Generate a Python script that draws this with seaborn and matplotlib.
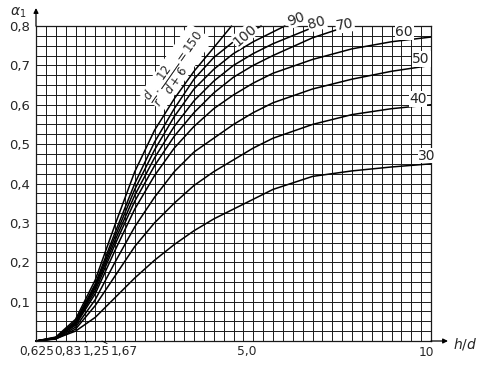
import numpy as np
import pandas as pd
import matplotlib.pyplot as plt
import seaborn as sns

# ---- data: alpha_1 against h/d, one curve per parameter ----
hd_low = [0, 0.5, 1, 1.5, 2, 2.5, 3, 3.5, 4, 4.5, 5, 5.5, 6, 7, 8, 9, 10]
a_30 = [0, 0.006, 0.025, 0.06, 0.11, 0.16, 0.205, 0.245, 0.28, 0.31, 0.335, 0.36, 0.385, 0.418, 0.432, 0.442, 0.45]
a_40 = [0, 0.005, 0.03, 0.09, 0.165, 0.24, 0.30, 0.35, 0.395, 0.43, 0.46, 0.49, 0.515, 0.55, 0.575, 0.59, 0.60]
a_50 = [0, 0.006, 0.035, 0.105, 0.20, 0.29, 0.365, 0.43, 0.48, 0.515, 0.55, 0.58, 0.605, 0.64, 0.665, 0.685, 0.70]
a_60 = [0, 0.007, 0.04, 0.12, 0.23, 0.335, 0.42, 0.49, 0.545, 0.59, 0.625, 0.655, 0.68, 0.715, 0.742, 0.76, 0.772]

hd_70 = [0, 0.5, 1, 1.5, 2, 2.5, 3, 3.5, 4, 4.5, 5, 5.5, 6, 7, 7.9]
a_70 = [0, 0.007, 0.042, 0.128, 0.245, 0.355, 0.445, 0.52, 0.58, 0.63, 0.67, 0.70, 0.725, 0.77, 0.80]
hd_80 = [0, 0.5, 1, 1.5, 2, 2.5, 3, 3.5, 4, 4.5, 5, 5.5, 6, 7.1]
a_80 = [0, 0.008, 0.045, 0.135, 0.255, 0.37, 0.465, 0.545, 0.61, 0.66, 0.70, 0.73, 0.755, 0.80]
hd_90 = [0, 0.5, 1, 1.5, 2, 2.5, 3, 3.5, 4, 4.5, 5, 5.5, 6.3]
a_90 = [0, 0.008, 0.047, 0.14, 0.265, 0.385, 0.485, 0.57, 0.64, 0.69, 0.73, 0.76, 0.80]
hd_100 = [0, 0.5, 1, 1.5, 2, 2.5, 3, 3.5, 4, 4.5, 5, 5.7]
a_100 = [0, 0.009, 0.05, 0.145, 0.275, 0.40, 0.505, 0.59, 0.665, 0.72, 0.76, 0.80]
hd_150 = [0, 0.5, 1, 1.5, 2, 2.5, 3, 3.5, 4, 4.5, 4.95]
a_150 = [0, 0.01, 0.055, 0.155, 0.295, 0.43, 0.535, 0.615, 0.685, 0.745, 0.80]

curves = {
    30: (hd_low, a_30), 40: (hd_low, a_40), 50: (hd_low, a_50), 60: (hd_low, a_60),
    70: (hd_70, a_70), 80: (hd_80, a_80), 90: (hd_90, a_90), 100: (hd_100, a_100),
    150: (hd_150, a_150),
}

# tick labels
y_ticks = [0.1, 0.2, 0.3, 0.4, 0.5, 0.6, 0.7, 0.8]
y_labels = ['0,1', '0,2', '0,3', '0,4', '0,5', '0,6', '0,7', '0,8']
x_marks = [0, 0.83, 1.25, 1.67, 5, 10]
x_labels = ['0,625', '0,83', '1,25', '1,67', '5,0', '10']

rows = []
for p, (xs, ys) in curves.items():
    for x, y in zip(xs, ys):
        rows.append((p, x, y))
df = pd.DataFrame(rows, columns=['param', 'hd', 'alpha'])

sns.set_style('white')
plt.rcParams['font.family'] = ['DejaVu Sans']

fig = plt.figure(figsize=(4.8, 3.65), dpi=100)
ax = fig.add_axes([36 / 480, 24 / 365, 395 / 480, 315 / 365])

sns.lineplot(data=df, x='hd', y='alpha', units='param', estimator=None,
             color='black', linewidth=1.1, sort=False, ax=ax, legend=False)
for line in ax.lines:
    line.set_clip_on(False)

ax.set_xlim(0, 10)
ax.set_ylim(0, 0.8)

# fine grid: 0.25 in h/d, 0.025 in alpha
ax.set_xticks(np.arange(0, 10.001, 0.25))
ax.set_yticks(np.arange(0, 0.8001, 0.025))
ax.set_xticklabels([])
ylab = ['' for _ in ax.get_yticks()]
for v, s in zip(y_ticks, y_labels):
    ylab[int(round(v / 0.025))] = s
ax.set_yticklabels(ylab, fontsize=9.5)
ax.tick_params(length=0, pad=4)
ax.grid(True, color='#1a1a1a', linewidth=0.7)
ax.set_axisbelow(True)
for s in ax.spines.values():
    s.set_color('#1a1a1a')
    s.set_linewidth(0.9)
ax.set_xlabel('')
ax.set_ylabel('')

# axis arrows and names
ax.annotate('', xy=(0, 1.057), xycoords='axes fraction', xytext=(0, 1.0),
            arrowprops=dict(arrowstyle='-|>', color='black', lw=0.9, mutation_scale=7,
                            shrinkA=0, shrinkB=0))
ax.annotate('', xy=(1.043, 0), xycoords='axes fraction', xytext=(1.0, 0),
            arrowprops=dict(arrowstyle='-|>', color='black', lw=0.9, mutation_scale=7,
                            shrinkA=0, shrinkB=0))
fig.text(18 / 480, 1 - 13 / 365, r'$\alpha_1$', fontsize=10, ha='center', va='center')
fig.text(465 / 480, 1 - 344 / 365, r'$h/d$', fontsize=10, ha='center', va='center')

# x labels, small ones with leader lines
x_offsets = [1, -1, 11, 22, 3, -5]
for v, s, dx in zip(x_marks, x_labels, x_offsets):
    lead = dict(arrowstyle='-', lw=0.6, color='black', shrinkA=0, shrinkB=0) if dx > 8 else None
    ax.annotate(s, xy=(v, 0), xycoords='data', xytext=(dx, -11), textcoords='offset pixels',
                ha='center' if v != 5 else 'left', va='center', fontsize=8.8,
                arrowprops=lead, annotation_clip=False)

# curve labels
white = dict(facecolor='white', edgecolor='none', pad=0.5)
lab_pos = {30: (9.9, 0.471, 0), 40: (9.67, 0.615, 0), 50: (9.75, 0.716, 0), 60: (9.32, 0.785, 0),
           70: (7.82, 0.803, 10), 80: (7.11, 0.808, 15), 90: (6.58, 0.818, 20), 100: (5.29, 0.777, 40)}
for p, (x, y, r) in lab_pos.items():
    ax.text(x, y, str(p), fontsize=10, ha='center', va='center', rotation=r,
            bbox=white, clip_on=False)
ax.text(3.55, 0.695, r'$\dfrac{d}{r}\cdot\dfrac{12}{d+6}=150$', fontsize=8.5, rotation=55,
        ha='center', va='center', bbox=white)

plt.savefig('out.png', dpi=100)
